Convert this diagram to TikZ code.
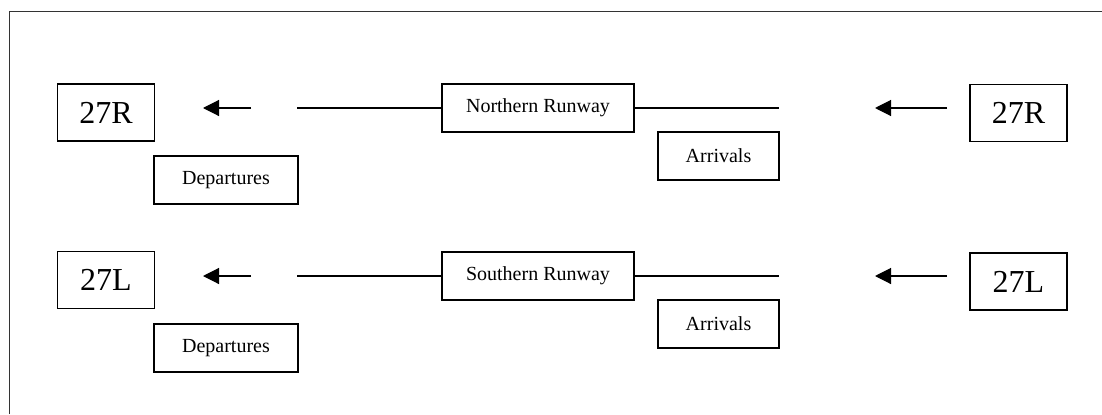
\documentclass[tikz,border=0pt]{standalone}
\usepackage{fontspec}
\setmainfont{Liberation Serif}
\usetikzlibrary{arrows.meta,positioning}

\begin{document}
\begin{tikzpicture}[x=0.75pt,y=-0.75pt,
semithick]

\tikzstyle{every runway}=[rectangle, draw, line width=1pt, inner sep=0pt, text centered]
\tikzstyle{rwybox}=[every runway, minimum width=72.75pt, minimum height=42.75pt, font=\fontsize{24}{27}\selectfont]
\tikzstyle{namebox}=[every runway, minimum width=144pt, minimum height=36pt, font=\fontsize{15}{18}\selectfont]
\tikzstyle{opbox}=[every runway, minimum height=36pt, font=\fontsize{15}{18}\selectfont]
\tikzstyle{track}=[line width=0.85pt]
\tikzstyle{flow}=[line width=0.85pt, -{Triangle[length=12pt,width=12pt]}]

\useasboundingbox (0,0) rectangle (1102,414);

%frame
\draw[line width=0.7pt, black!80] (9,414) -- (9,11) -- (1102,11);

%northern runway
\node[rwybox] (wR) at (106,112.5) {27R};
\node[rwybox] (eR) at (1018.5,113) {27R};
\node[namebox] (north) at (538,108) {Northern Runway};
\node[opbox, minimum width=90.75pt] (arrN) at (718.5,156) {Arrivals};
\node[opbox, minimum width=108pt] (depN) at (226,180) {Departures};

\coordinate (nA) at (297,108);
\coordinate (nB) at (779,108);
\coordinate (nC) at (251,108);
\coordinate (nD) at (203,108);
\coordinate (nE) at (947,108);
\coordinate (nF) at (875,108);

\draw[track] (nA) -- (north.west);
\draw[track] (north.east) -- (nB);
\draw[flow] (nC) -- (nD);
\draw[flow] (nE) -- (nF);

%southern runway
\node[rwybox] (wL) at (106,280) {27L};
\node[rwybox] (eL) at (1018.5,281.5) {27L};
\node[namebox] (south) at (538,276) {Southern Runway};
\node[opbox, minimum width=90.75pt] (arrS) at (718.5,324) {Arrivals};
\node[opbox, minimum width=108pt] (depS) at (226,348) {Departures};

\coordinate (sA) at (297,276);
\coordinate (sB) at (779,276);
\coordinate (sC) at (251,276);
\coordinate (sD) at (203,276);
\coordinate (sE) at (947,276);
\coordinate (sF) at (875,276);

\draw[track] (sA) -- (south.west);
\draw[track] (south.east) -- (sB);
\draw[flow] (sC) -- (sD);
\draw[flow] (sE) -- (sF);

\end{tikzpicture}
\end{document}
